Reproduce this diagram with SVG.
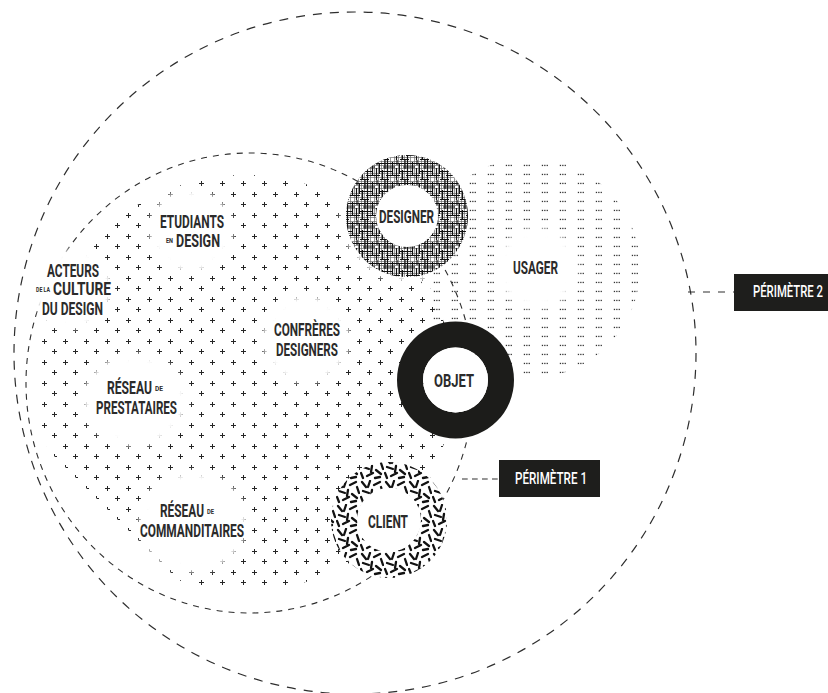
<svg xmlns="http://www.w3.org/2000/svg" width="828" height="693" viewBox="0 0 828 693">
<style>
.lbl{font-family:Roboto,"DejaVu Sans Condensed","Liberation Sans",sans-serif;font-weight:700;font-size:18px;fill:#2b2b2b}
.sm{font-size:7.5px}
.wl{font-family:Roboto,"DejaVu Sans Condensed","Liberation Sans",sans-serif;font-weight:500;font-size:16.5px;fill:#ffffff}
.dash-o{fill:none;stroke:#2e2e2e;stroke-width:1.2;stroke-dasharray:9 8}
.dash-i{fill:none;stroke:#2e2e2e;stroke-width:1.1;stroke-dasharray:6 6}
.box{fill:#1e1e1c}
</style>
<defs>
<filter id="blur" x="-30%" y="-30%" width="160%" height="160%"><feGaussianBlur stdDeviation="3"/></filter>
<pattern id="plus" patternUnits="userSpaceOnUse" x="60" y="336" width="21" height="21">
<path d="M3 5.5h5M5.5 3v5M13 15.5h5M15.5 13v5" stroke="#262626" stroke-width="1" fill="none"/>
</pattern>
<pattern id="dots" patternUnits="userSpaceOnUse" x="469" y="182" width="18" height="9">
<g fill="#333"><rect x="0.8" y="0.8" width="1.3" height="1.3"/><rect x="3.2" y="0.8" width="1.3" height="1.3"/><rect x="5.6" y="0.8" width="1.3" height="1.3"/></g>
</pattern>
<pattern id="hatch" patternUnits="userSpaceOnUse" width="20" height="20">
<g stroke="#6a6a6a" stroke-width="0.7" fill="none"><path d="M0 1.5h20M0 5.5h20M0 8.5h20M0 13.5h20M0 17.5h20M1.5 0v20M4.5 0v20M10.5 0v20M14.5 0v20M18.5 0v20"/></g>
<g stroke="#111" stroke-width="1.2" fill="none"><path d="M0 3.5h20M0 11.5h13M6 15.5h14M0 19.5h9M3 7h12M7.5 0v20M12.5 2v14M16.5 8v12M2.5 10v10M17 0v5M5 0v9M19.5 4v10"/></g>
</pattern>
<pattern id="confetti" patternUnits="userSpaceOnUse" width="24" height="24">
<g stroke="#111" stroke-width="2.3" stroke-linecap="round" fill="none">
<path d="M2 2l4 5M10 1l-2 6M14 5l6-3M21 7l2 6M3 11l6 2M12 10l-1 6M16 14l5 4M1 17l2 5M7 20l6-3M15 22l5-1"/>
</g>
</pattern>
<mask id="plusMask" maskUnits="userSpaceOnUse" x="0" y="0" width="828" height="693">
<circle cx="245" cy="383" r="208" fill="#fff"/>
<polygon points="0,402 291,693 0,693" fill="#000"/>
<g fill="#000" filter="url(#blur)">
<circle cx="191" cy="231" r="42"/>
<circle cx="72" cy="288" r="40"/>
<circle cx="306" cy="339" r="44"/>
<ellipse cx="135" cy="400" rx="52" ry="46"/>
<ellipse cx="193" cy="522" rx="54" ry="50"/>
<circle cx="407" cy="216" r="66"/>
</g>
</mask>
<mask id="dotMask" maskUnits="userSpaceOnUse" x="0" y="0" width="828" height="693">
<circle cx="530" cy="268" r="110" fill="#fff"/>
<circle cx="537" cy="268" r="40" fill="#000" filter="url(#blur)"/>
</mask>
</defs>
<rect width="828" height="693" fill="#fff"/>

<g id="perimetre2-circle"><circle class="dash-o" cx="355" cy="353" r="341"/></g>
<g id="perimetre1-circle"><ellipse class="dash-i" cx="250" cy="383" rx="224" ry="230"/></g>

<g id="plus-field"><rect x="0" y="0" width="828" height="693" fill="url(#plus)" mask="url(#plusMask)"/></g>
<g id="acteurs-clear"><circle cx="70" cy="288" r="38" fill="#fff" filter="url(#blur)"/></g>

<g id="usager">
<rect x="0" y="0" width="828" height="693" fill="url(#dots)" mask="url(#dotMask)"/>
<text class="lbl" x="513" y="274" textLength="45" lengthAdjust="spacingAndGlyphs">USAGER</text>
</g>

<g id="connectors">
<line x1="462" y1="479" x2="499" y2="479" stroke="#2e2e2e" stroke-width="1.1" stroke-dasharray="5.7 4.3"/>
<line x1="688" y1="292" x2="734" y2="292" stroke="#2e2e2e" stroke-width="1.1" stroke-dasharray="7 8"/>
</g>

<g id="designer">
<circle cx="407" cy="216" r="61" fill="#fff"/>
<path d="M346 216a61 61 0 1 0 122 0a61 61 0 1 0 -122 0ZM376 216a31 31 0 1 1 62 0a31 31 0 1 1 -62 0Z" fill="url(#hatch)" fill-rule="evenodd"/>
<text class="lbl" x="379" y="223" textLength="55" lengthAdjust="spacingAndGlyphs">DESIGNER</text>
</g>

<g id="objet">
<path d="M397 380a58.5 58.5 0 1 0 117 0a58.5 58.5 0 1 0 -117 0ZM423 380a32.5 32.5 0 1 1 65 0a32.5 32.5 0 1 1 -65 0Z" fill="#1c1c1a" fill-rule="evenodd"/>
<circle cx="455.5" cy="380" r="32.5" fill="#fff"/>
<text class="lbl" x="434" y="387" textLength="40" lengthAdjust="spacingAndGlyphs">OBJET</text>
</g>

<g id="client">
<circle cx="389" cy="520" r="58" fill="#fff"/>
<path d="M331 520a58 58 0 1 0 116 0a58 58 0 1 0 -116 0ZM357 520a32 32 0 1 1 64 0a32 32 0 1 1 -64 0Z" fill="url(#confetti)" fill-rule="evenodd"/>
<text class="lbl" x="368" y="528" textLength="40" lengthAdjust="spacingAndGlyphs">CLIENT</text>
</g>

<g id="etudiants">
<text class="lbl" x="160" y="228" textLength="64" lengthAdjust="spacingAndGlyphs">ETUDIANTS</text>
<text class="lbl"><tspan class="sm" x="166" y="243" textLength="7" lengthAdjust="spacingAndGlyphs">EN</tspan><tspan x="176" y="247" textLength="44" lengthAdjust="spacingAndGlyphs">DESIGN</tspan></text>
</g>

<g id="acteurs">
<text class="lbl" x="47" y="277" textLength="52" lengthAdjust="spacingAndGlyphs">ACTEURS</text>
<text class="lbl"><tspan class="sm" x="36" y="292" textLength="14" lengthAdjust="spacingAndGlyphs">DE LA</tspan><tspan x="53" y="295" textLength="58" lengthAdjust="spacingAndGlyphs">CULTURE</tspan></text>
<text class="lbl" x="42" y="315" textLength="61" lengthAdjust="spacingAndGlyphs">DU DESIGN</text>
</g>

<g id="confreres">
<text class="lbl" x="274" y="336" textLength="66" lengthAdjust="spacingAndGlyphs">CONFRÈRES</text>
<text class="lbl" x="276" y="356" textLength="62" lengthAdjust="spacingAndGlyphs">DESIGNERS</text>
</g>

<g id="prestataires">
<text class="lbl"><tspan x="107" y="394" textLength="45" lengthAdjust="spacingAndGlyphs">RÉSEAU</tspan><tspan class="sm" x="155" y="391" textLength="8" lengthAdjust="spacingAndGlyphs">DE</tspan></text>
<text class="lbl" x="96" y="414" textLength="81" lengthAdjust="spacingAndGlyphs">PRESTATAIRES</text>
</g>

<g id="commanditaires">
<text class="lbl"><tspan x="160" y="517" textLength="44" lengthAdjust="spacingAndGlyphs">RÉSEAU</tspan><tspan class="sm" x="207" y="514" textLength="7" lengthAdjust="spacingAndGlyphs">DE</tspan></text>
<text class="lbl" x="140" y="537" textLength="104" lengthAdjust="spacingAndGlyphs">COMMANDITAIRES</text>
</g>

<g id="perimetre1-label">
<rect class="box" x="499" y="460" width="101" height="37"/>
<text class="wl" x="515" y="484" textLength="72" lengthAdjust="spacingAndGlyphs">PÉRIMÈTRE 1</text>
</g>

<g id="perimetre2-label">
<rect class="box" x="734" y="274" width="94" height="37"/>
<text class="wl" x="753" y="297" textLength="70" lengthAdjust="spacingAndGlyphs">PÉRIMÈTRE 2</text>
</g>
</svg>
